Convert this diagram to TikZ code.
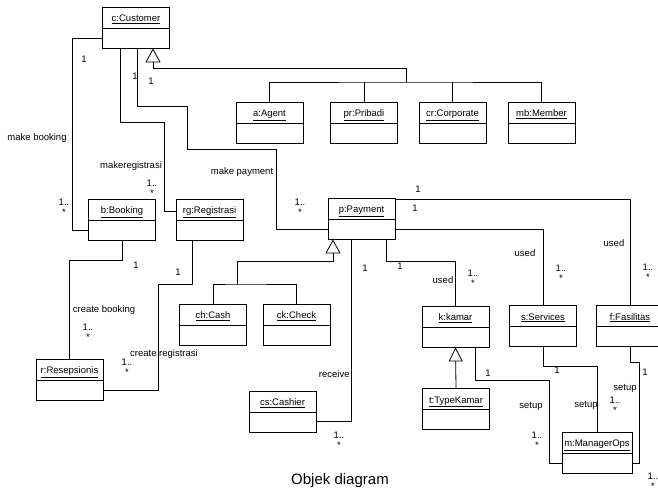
\documentclass[tikz,border=0pt]{standalone}
\usepackage{fontspec}
\setmainfont{Liberation Sans}
\usetikzlibrary{arrows.meta}

\begin{document}
\begin{tikzpicture}[x=1pt,y=-1pt,line width=0.8pt,
  every node/.style={font=\fontsize{9.5}{11}\selectfont},
  obj/.style={draw,minimum width=67pt,minimum height=41pt,inner xsep=2pt,inner ysep=7.5pt,
    text height=7pt,text depth=19pt,
    path picture={\draw ([yshift=-21pt]path picture bounding box.north west)
      -- ([yshift=-21pt]path picture bounding box.north east);}},
  mult/.style={align=center,inner sep=0pt,font=\fontsize{9.5}{10}\selectfont},
  lbl/.style={inner sep=0pt},
  inherit/.style={-{Triangle[open,length=14pt,width=15pt]}}]
          \clip (0,0) rectangle (658,495);
          \node[obj] (c) at (136,27.5) {\underline{c:Customer}};
          \node[obj] (a) at (269.5,122.5) {\underline{a:Agent}};
          \node[obj] (pr) at (364,122.5) {\underline{pr:Pribadi}};
          \node[obj] (cr) at (452.5,122.5) {\underline{cr:Corporate}};
          \node[obj] (mb) at (541.5,122.5) {\underline{mb:Member}};
          \node[obj] (b) at (122,219.5) {\underline{b:Booking}};
          \node[obj] (rg) at (209.5,219.5) {\underline{rg:Registrasi}};
          \node[obj] (p) at (361.5,218.5) {\underline{p:Payment}};
          \node[obj] (ch) at (213,324.5) {\underline{ch:Cash}};
          \node[obj] (ck) at (296.5,324.5) {\underline{ck:Check}};
          \node[obj] (r) at (69.5,379.5) {\underline{r:Resepsionis}};
          \node[obj] (cs) at (282.5,411.5) {\underline{cs:Cashier}};
          \node[obj] (k) at (455.5,326.5) {\underline{k:kamar}};
          \node[obj] (s) at (543,326) {\underline{s:Services}};
          \node[obj] (f) at (630,326) {\underline{f:Fasilitas}};
          \node[obj] (t) at (456,409) {\underline{t:TypeKamar}};
          \node[obj,minimum width=70pt] (m) at (597,452.5) {\underline{m:ManagerOps}};

          \coordinate (cbus) at (406,82);
          \draw (a.north) |- (cbus) -| (mb.north);
          \draw (pr.north) -- (pr.north |- cbus);
          \draw (cr.north) -- (cr.north |- cbus);
          \draw[inherit] (cbus) |- (153,68) -- ([xshift=17pt]c.south);
          \coordinate (pbus) at (237,284);
          \draw (ch.north) |- (pbus) -| (ck.north);
          \draw[inherit] (pbus) |- (333,261) -- ([xshift=-28.5pt]p.south);
          \draw[-{Triangle[open,length=14pt,width=14pt]}] (t.north) -- (k.south);

          \draw ([yshift=-10.5pt]c.west) -| (72,230) -- ([yshift=-10.5pt]b.west);
          \draw ([xshift=-16pt]c.south) |- (164,122) |- ([yshift=8.5pt]rg.west);
          \draw ([xshift=1pt]c.south) |- (187,106) |- (276,149) |- ([yshift=-10.5pt]p.west);
          \draw (b.south) -- ++(0,20) -| (r.north);
          \draw ([xshift=-17.5pt]rg.south) |- (158,284) |- ([yshift=-10.5pt]r.east);
          \draw ([xshift=-10.5pt]p.south) |- ([yshift=-9.5pt]cs.east);
          \draw ([xshift=24.5pt]p.south) -- ++(0,22) -| (k.north);
          \draw ([yshift=-10.5pt]p.east) -| (s.north);
          \draw ([yshift=-2pt]p.north east) -| (f.north);
          \draw ([xshift=19.5pt]k.south) |- (549,380) |- ([yshift=-10.5pt]m.west);
          \draw (s.south) -- ++(0,19) -| (m.north);
          \draw (f.south) |- (639,362) |- ([yshift=-10.5pt]m.east);

          \node[lbl] (l1) at (84,59) {1};
          \node[lbl] (l2) at (135,76) {1};
          \node[lbl] (l3) at (151,81) {1};
          \node[lbl] (l4) at (37,138) {make booking};
          \node[mult] (m1) at (64,207) {1..\\*};
          \node[lbl] (l5) at (131,166) {makeregistrasi};
          \node[mult] (m2) at (152,188) {1..\\*};
          \node[lbl] (l6) at (242,172) {make payment};
          \node[mult] (m3) at (300,207) {1..\\*};
          \node[lbl] (l7) at (418,189) {1};
          \node[lbl] (l8) at (415,208) {1};
          \node[lbl] (l9) at (136,265) {1};
          \node[lbl] (l10) at (104,310) {create booking};
          \node[mult] (m4) at (88,332) {1..\\*};
          \node[lbl] (l11) at (178,272) {1};
          \node[lbl] (l12) at (164,354) {create registrasi};
          \node[mult] (m5) at (127,367) {1..\\*};
          \node[lbl] (l13) at (365,268) {1};
          \node[lbl,anchor=east] (l14) at (350,374) {receive};
          \node[mult] (m6) at (339,440) {1..\\*};
          \node[lbl] (l15) at (400,266) {1};
          \node[lbl] (l16) at (443,280) {used};
          \node[mult] (m7) at (473,278) {1..\\*};
          \node[lbl] (l17) at (525,253) {used};
          \node[mult] (m8) at (561,273) {1..\\*};
          \node[lbl] (l18) at (614,243) {used};
          \node[mult] (m9) at (648,272) {1..\\*};
          \node[lbl] (l19) at (488,373) {1};
          \node[lbl] (l20) at (531,406) {setup};
          \node[mult] (m10) at (537,440) {1..\\*};
          \node[lbl] (l21) at (557,370) {1};
          \node[lbl] (l22) at (586,405) {setup};
          \node[lbl] (l23) at (645,372) {1};
          \node[lbl] (l24) at (625,388) {setup};
          \node[mult] (m11) at (615,405) {1..\\*};
          \node[mult] (m12) at (653,481) {1..\\*};
          \node[font=\fontsize{15}{18}\selectfont] (title) at (340,481) {Objek diagram};
        \end{tikzpicture}
\end{document}
